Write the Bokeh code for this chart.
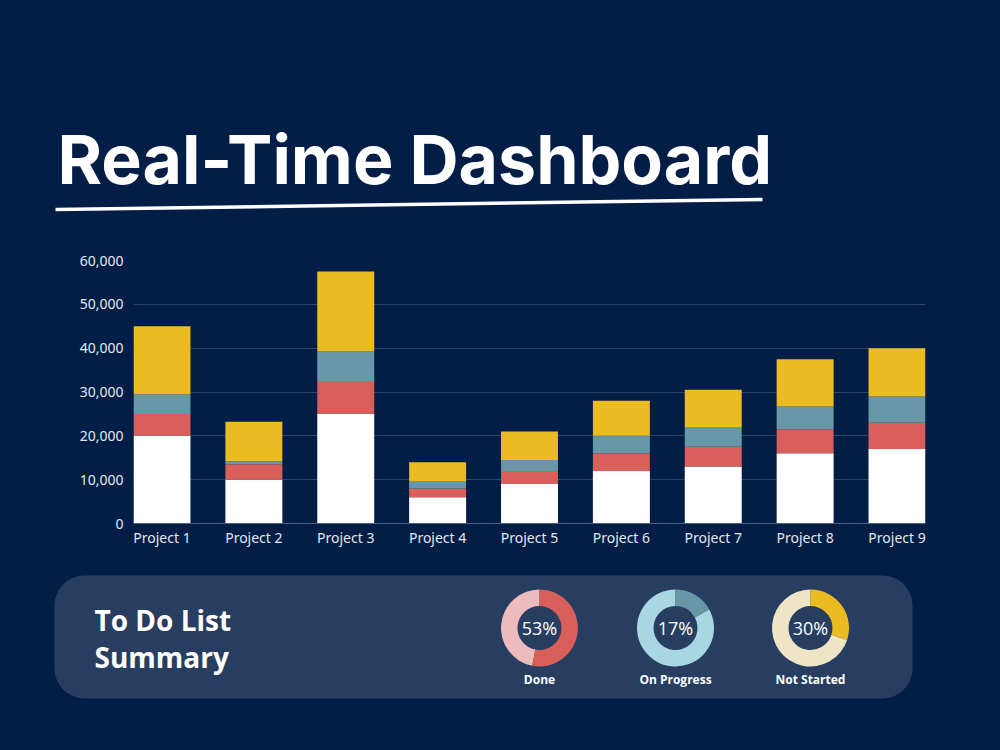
import math

from bokeh.core.properties import value
from bokeh.embed import file_html
from bokeh.layouts import column
from bokeh.models import ColumnDataSource, FixedTicker, NumeralTickFormatter, Range1d
from bokeh.plotting import figure
from bokeh.resources import INLINE

# ---- data -------------------------------------------------------------
projects = ["Project 1", "Project 2", "Project 3", "Project 4", "Project 5",
            "Project 6", "Project 7", "Project 8", "Project 9"]
base = [20000, 10000, 25000, 6000, 9000, 12000, 13000, 16000, 17000]
done = [5000, 3500, 7500, 2000, 3000, 4000, 4500, 5500, 6000]
progress = [4500, 700, 6750, 1700, 2500, 4000, 4500, 5200, 6000]
pending = [15500, 9000, 18250, 4300, 6500, 8000, 8500, 10800, 11000]
y_ticks = [0, 10000, 20000, 30000, 40000, 50000, 60000]

summary_labels = ["Done", "On Progress", "Not Started"]
summary_pct = [53, 17, 30]

# ---- styling ------------------------------------------------------------
NAVY = "#021e46"
PANEL = "#283e60"
stack_names = ["base", "done", "progress", "pending"]
stack_colors = ["#ffffff", "#d95f5b", "#6897a7", "#ebbb22"]
ring_main = ["#d95f5b", "#6897a7", "#ebbb22"]
ring_rest = ["#ecbcbc", "#a9d6e3", "#efe4c5"]
TEXT_FONT = value("Open Sans")


def canvas(h):
    p = figure(width=1000, height=h, x_range=Range1d(0, 1000), y_range=Range1d(0, h),
               x_axis_location=None, y_axis_location=None,
               output_backend="svg", toolbar_location=None, min_border=0,
               frame_align=False)
    p.grid.visible = False
    p.outline_line_color = None
    p.background_fill_color = NAVY
    p.border_fill_color = NAVY
    return p


# ---- heading ----------------------------------------------------------
head = canvas(230)
head.text(x=[57], y=[72], text=["Real-Time Dashboard"], text_font=value("Inter"),
          text_font_style="bold", text_font_size="68px", text_color="white",
          text_baseline="alphabetic", text_align="left")
head.line(x=[55, 762], y=[21, 31], line_width=3.5, line_color="white")

# ---- stacked bars -----------------------------------------------------
chart = figure(width=1000, height=330, x_range=Range1d(-0.31, 8.31),
               y_range=Range1d(0, 60000), output_backend="svg", toolbar_location=None,
               min_border_left=133, min_border_right=75, min_border_top=30,
               min_border_bottom=37, frame_align=False)
chart.background_fill_color = NAVY
chart.border_fill_color = NAVY
chart.outline_line_color = None

src = ColumnDataSource(dict(x=list(range(len(projects))), base=base, done=done,
                            progress=progress, pending=pending))
chart.vbar_stack(stack_names, x="x", width=0.62, source=src,
                 fill_color=stack_colors, line_color=None)

chart.xgrid.visible = False
chart.ygrid.grid_line_color = "#2a4368"
chart.ygrid.grid_line_width = 1.2

chart.yaxis.ticker = FixedTicker(ticks=y_ticks)
chart.yaxis.formatter = NumeralTickFormatter(format="0,0")
chart.yaxis.axis_line_color = None
chart.yaxis.major_label_standoff = 10

chart.xaxis.ticker = FixedTicker(ticks=list(range(len(projects))))
chart.xaxis.major_label_overrides = {i: name for i, name in enumerate(projects)}
chart.xaxis.axis_line_color = "#4a6080"
chart.xaxis.major_label_standoff = 4

for ax in (chart.xaxis, chart.yaxis):
    ax.major_tick_line_color = None
    ax.minor_tick_line_color = None
    ax.major_tick_out = 0
    ax.major_tick_in = 0
    ax.minor_tick_out = 0
    ax.major_label_text_font = "Noto Sans"
    ax.major_label_text_font_size = "14px"
    ax.major_label_text_color = "#e3e7ee"

# ---- summary panel ----------------------------------------------------
foot = canvas(190)
foot.quad(left=[54], right=[912], top=[175], bottom=[52], fill_color=PANEL,
          line_color=None, border_radius=30)
foot.text(x=[94, 94], y=[131, 94], text=["To Do List", "Summary"], text_font=TEXT_FONT,
          text_font_style="bold", text_font_size="28px", text_color="white",
          text_baseline="alphabetic", text_align="left")

ring_x = [539, 675, 810]
ring_y = 122.5
top_angle = math.pi / 2
ends = [top_angle - 2 * math.pi * pct / 100 for pct in summary_pct]

rings = ColumnDataSource(dict(x=ring_x, y=[ring_y] * 3, end=ends,
                              main=ring_main, rest=ring_rest,
                              pct=[f"{v}%" for v in summary_pct],
                              label=summary_labels))
foot.annular_wedge(x="x", y="y", inner_radius=22, outer_radius=38.5,
                   inner_radius_units="screen", outer_radius_units="screen",
                   start_angle="end", end_angle=top_angle - 2 * math.pi,
                   direction="clock", fill_color="rest", line_color=None, source=rings)
foot.annular_wedge(x="x", y="y", inner_radius=22, outer_radius=38.5,
                   inner_radius_units="screen", outer_radius_units="screen",
                   start_angle=top_angle, end_angle="end",
                   direction="clock", fill_color="main", line_color=None, source=rings)
foot.text(x="x", y=123, text="pct", text_font=TEXT_FONT, text_font_size="18px",
          text_color="white", text_align="center", text_baseline="middle", source=rings)
foot.text(x="x", y=71, text="label", text_font=TEXT_FONT, text_font_style="bold",
          text_font_size="12px", text_color="white", text_align="center",
          text_baseline="alphabetic", source=rings)

page = column(head, chart, foot, spacing=0)
page.styles = {"background-color": NAVY}

open("out.html", "w").write(file_html(page, INLINE))
